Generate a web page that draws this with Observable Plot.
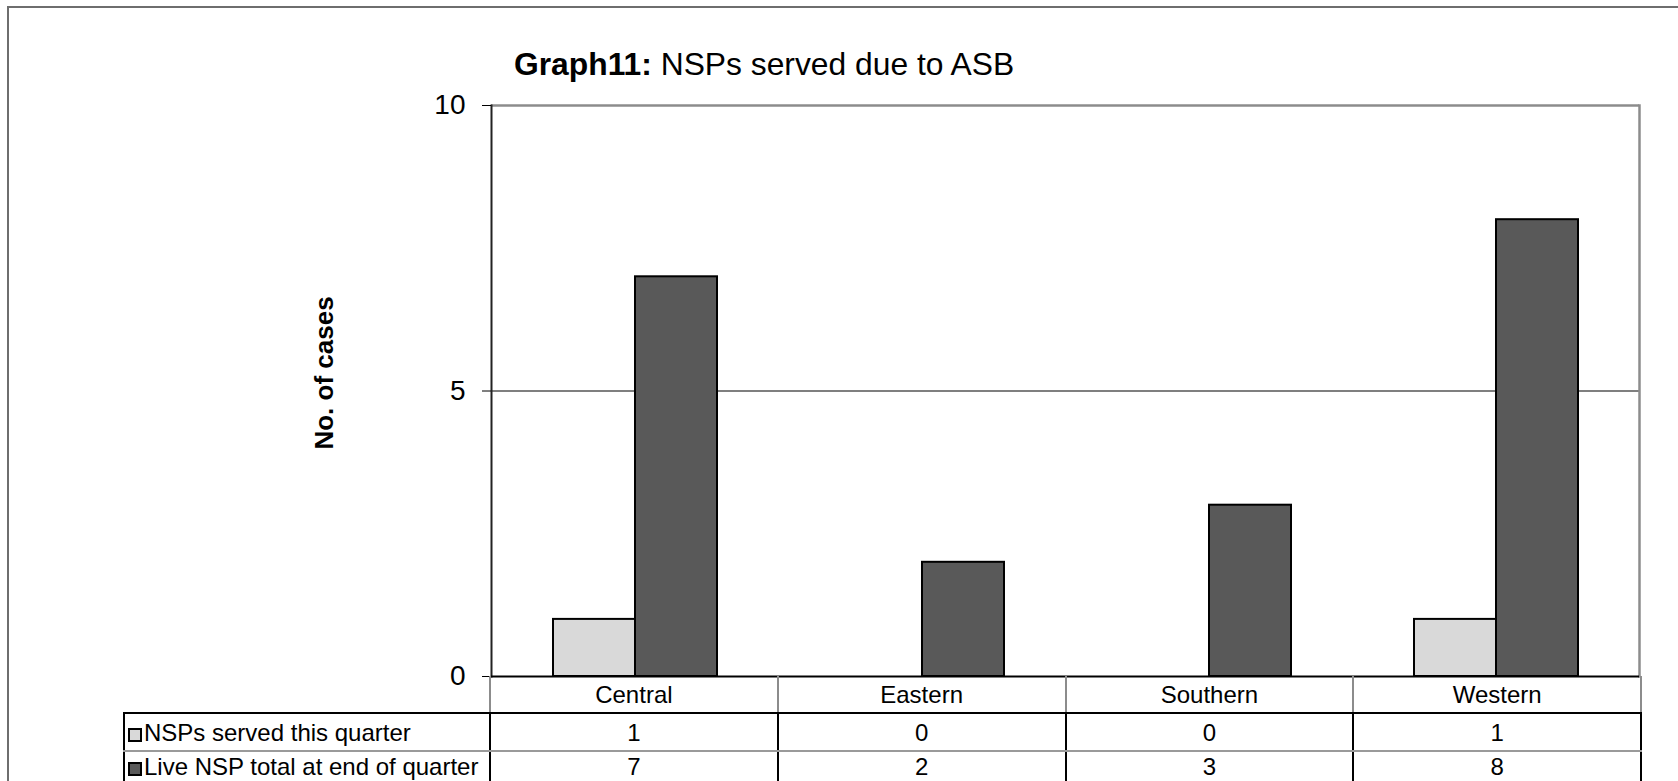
<!DOCTYPE html>
<html>
<head>
<meta charset="utf-8">
<script src="https://cdn.jsdelivr.net/npm/d3@7"></script>
<script src="https://cdn.jsdelivr.net/npm/@observablehq/plot@0.6"></script>
<style>
  html, body { margin: 0; padding: 0; background: #fff; overflow: hidden; }
  #page { position: relative; width: 1678px; height: 781px; overflow: hidden;
          font-family: "Liberation Sans", Arial, sans-serif; color: #000; }
  #border { position: absolute; left: 7px; top: 6px; width: 1700px; height: 800px;
            border-top: 2px solid #6e6e6e; border-left: 2px solid #6e6e6e; }
  #title { position: absolute; left: 514px; top: 49px; font-size: 31.8px; line-height: 30px; white-space: nowrap; }
  #chart { position: absolute; left: 0; top: 0; }
  #chart svg { color: #000; }
  #chart [aria-label="y-axis label"] { translate: 0px -18px; }
  #chart [aria-label="y-axis label"] text { font-size: 26px; font-weight: bold; }
  #table { position: absolute; left: 123px; top: 676px; border-collapse: collapse; table-layout: fixed;
           font-size: 24px; line-height: 21px; }
  #table td { padding: 0; height: 36px; text-align: center; vertical-align: middle; white-space: nowrap; }
  #table tr.r2 td { vertical-align: top; padding-top: 4px; height: 26px; }
  #table td.lab { text-align: left; padding-left: 3px; border-left: 2px solid #000; border-top: 2px solid #000; }
  #table tr.head td { border-bottom: 2px solid #000; }
  #table tr.head td.blank { border: none; }
  #table tr.head td.cat { border-left: 2px solid #8c8c8c; }
  #table tr.head td.cat.last { border-right: 2px solid #8c8c8c; }
  #table tr.r1 td { border-bottom: 2px solid #9a9a9a; }
  #table tr.body td.val { border-left: 2px solid #000; }
  #table tr.body td.val.last { border-right: 2px solid #000; }
  .sw { display: inline-block; width: 14px; height: 14px; border: 2.5px solid #000; margin-right: 2px;
        vertical-align: -1px; box-sizing: border-box; }
</style>
</head>
<body>
<div id="page">
  <div id="border"></div>
  <div id="title"><b>Graph11:</b> NSPs served due to ASB</div>
  <div id="chart"></div>
  <table id="table"></table>
</div>
<script>
// ---- data ----
const regions = ["Central", "Eastern", "Southern", "Western"];
const seriesNames = ["NSPs served this quarter", "Live NSP total at end of quarter"];
const served = [1, 0, 0, 1];
const live = [7, 2, 3, 8];
const yTicks = [0, 5, 10];
const seriesColors = ["#d9d9d9", "#595959"];
const yLabel = "No. of cases";

const seriesValues = [served, live];
const data = regions.flatMap((r, i) =>
  seriesNames.map((s, k) => ({ region: r, series: s, value: seriesValues[k][i] }))
);

const chart = Plot.plot({
  width: 1678,
  height: 680,
  marginLeft: 489,
  marginRight: 38,
  marginTop: 105,
  marginBottom: 4,
  style: { fontFamily: "'Liberation Sans', Arial, sans-serif", background: "transparent", overflow: "visible" },
  fx: { domain: regions, padding: 0, axis: null },
  x: { domain: seriesNames, paddingInner: 0, paddingOuter: 0.735, axis: null },
  y: { domain: [0, 10] },
  color: { domain: seriesNames, range: seriesColors },
  marks: [
    Plot.ruleY([5], { stroke: "#000", strokeWidth: 1.2 }),
    Plot.ruleY([10], { stroke: "#8c8c8c", strokeWidth: 2.5 }),
    Plot.frame({ anchor: "right", stroke: "#8c8c8c", strokeWidth: 2.5, facetAnchor: "right" }),
    Plot.barY(data, { fx: "region", x: "series", y: "value", fill: "series", stroke: "#000", strokeWidth: 2 }),
    Plot.frame({ anchor: "left", stroke: "#222", strokeWidth: 2, facetAnchor: "left" }),
    Plot.ruleY([0], { stroke: "#000", strokeWidth: 2 }),
    Plot.axisY({
      ticks: yTicks, tickFormat: d => String(d), tickSize: 9, tickPadding: 17, fontSize: 28,
      stroke: "#000", label: yLabel, labelAnchor: "center", labelOffset: 177, labelArrow: "none"
    })
  ]
});
document.getElementById("chart").appendChild(chart);

// ---- data table (legend + values) ----
const table = document.getElementById("table");
const colgroup = document.createElement("colgroup");
const c0 = document.createElement("col"); c0.style.width = "366px"; colgroup.appendChild(c0);
regions.forEach(() => { const c = document.createElement("col"); c.style.width = "287.75px"; colgroup.appendChild(c); });
table.appendChild(colgroup);

const head = document.createElement("tr"); head.className = "head";
const blank = document.createElement("td"); blank.className = "blank"; head.appendChild(blank);
regions.forEach((r, i) => {
  const td = document.createElement("td");
  td.className = "cat" + (i === regions.length - 1 ? " last" : "");
  td.textContent = r; head.appendChild(td);
});
table.appendChild(head);

seriesNames.forEach((s, k) => {
  const tr = document.createElement("tr"); tr.className = "body r" + (k + 1);
  const lab = document.createElement("td"); lab.className = "lab";
  const sw = document.createElement("span"); sw.className = "sw"; sw.style.background = seriesColors[k];
  lab.appendChild(sw); lab.appendChild(document.createTextNode(s));
  tr.appendChild(lab);
  seriesValues[k].forEach((v, i) => {
    const td = document.createElement("td");
    td.className = "val" + (i === regions.length - 1 ? " last" : "");
    td.textContent = String(v); tr.appendChild(td);
  });
  table.appendChild(tr);
});
</script>
</body>
</html>
